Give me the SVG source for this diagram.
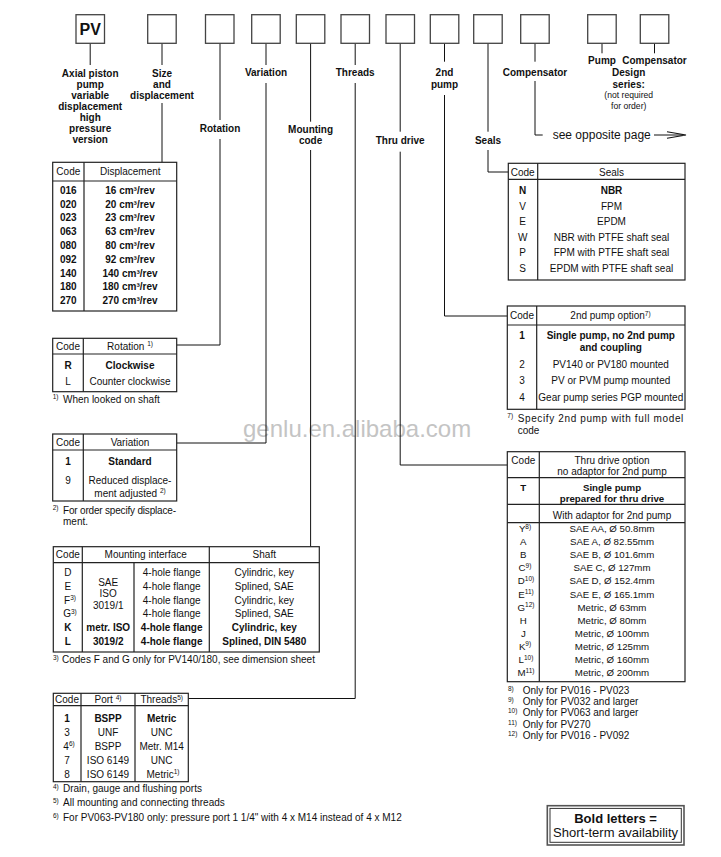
<svg xmlns="http://www.w3.org/2000/svg" width="721" height="857" viewBox="0 0 721 857">
<style>
text{font-family:"Liberation Sans",Arial,Helvetica,sans-serif;font-size:10px;fill:#111}
.b{font-weight:bold}
.m{text-anchor:middle}
.s{font-size:6.5px}
.sm{font-size:8.6px}
.td{font-size:9.7px}
.box{fill:#fff;stroke:#444;stroke-width:1.3}
.tbl{fill:#fff;stroke:#222;stroke-width:1.2}
.ln{fill:none;stroke:#222;stroke-width:1.2}
.conn{fill:none;stroke:#111;stroke-width:1}
.wm{font-size:24px;fill:#c4c4c4}
</style>
<rect width="721" height="857" fill="#fff"/>
<text class="wm" x="243" y="436.5">genlu.en.alibaba.com</text>
<g id="connectors" class="conn">
<path d="M90.2 43.3V65"/>
<path d="M162 43.3V65M162 103V162.3"/>
<path d="M220 43.3V120M220 139V345H176.7"/>
<path d="M266 43.3V65M266 83V443H176.7"/>
<path d="M310.6 43.3V121.7M310.6 150V546.7"/>
<path d="M355.2 43.3V65M355.2 83V698.5H188.3"/>
<path d="M400.2 43.3V131.7M400.2 151.7V465H507.3"/>
<path d="M444.5 43.3V61.7M444.5 95V316H507.3"/>
<path d="M488 43.3V131.7M488 150V172H508.3"/>
<path d="M535 43.3V61.7M535 81V135H542.7"/>
<path d="M602 43.3V53.3"/>
<path d="M654.5 43.3V53.3"/>
<path d="M654 135H683"/>
<path d="M667 131.8L686 135L667 138.2" stroke-width="1.1"/>
</g>
<g id="pos-pv"><rect class="box" x="76" y="14.7" width="28.5" height="28.6"/><text class="b m" x="90.2" y="35" style="font-size:16px">PV</text>
<text class="b m" x="90.2" y="76.5">Axial piston</text><text class="b m" x="90.2" y="87.5">pump</text><text class="b m" x="90.2" y="98.5">variable</text><text class="b m" x="90.2" y="109.5">displacement</text><text class="b m" x="90.2" y="120.5">high</text><text class="b m" x="90.2" y="131.5">pressure</text><text class="b m" x="90.2" y="142.5">version</text></g>
<g id="pos-size"><rect class="box" x="147.7" y="14.7" width="28.5" height="28.6"/><text class="b m" x="162" y="76.5">Size</text><text class="b m" x="162" y="87.5">and</text><text class="b m" x="162" y="98.5">displacement</text></g>
<g id="pos-rotation"><rect class="box" x="205.5" y="14.7" width="28.5" height="28.6"/><text class="b m" x="220" y="131.8">Rotation</text></g>
<g id="pos-variation"><rect class="box" x="251.7" y="14.7" width="28.5" height="28.6"/><text class="b m" x="266" y="75.8">Variation</text></g>
<g id="pos-mounting"><rect class="box" x="296.3" y="14.7" width="28.5" height="28.6"/><text class="b m" x="310.6" y="132.8">Mounting</text><text class="b m" x="310.6" y="143.5">code</text></g>
<g id="pos-threads"><rect class="box" x="341" y="14.7" width="28.5" height="28.6"/><text class="b m" x="355.2" y="75.5">Threads</text></g>
<g id="pos-thru"><rect class="box" x="386" y="14.7" width="28.5" height="28.6"/><text class="b m" x="400.2" y="143.5">Thru drive</text></g>
<g id="pos-2nd"><rect class="box" x="430.3" y="14.7" width="28.5" height="28.6"/><text class="b m" x="444.5" y="76.2">2nd</text><text class="b m" x="444.5" y="87.8">pump</text></g>
<g id="pos-seals"><rect class="box" x="473.7" y="14.7" width="28.5" height="28.6"/><text class="b m" x="488" y="143.5">Seals</text></g>
<g id="pos-comp"><rect class="box" x="520.7" y="14.7" width="28.5" height="28.6"/><text class="b m" x="535" y="76.2">Compensator</text><text x="552.7" y="139.2" style="font-size:12px">see opposite page</text></g>
<g id="pos-design"><rect class="box" x="587.7" y="14.7" width="28.5" height="28.6"/><rect class="box" x="640.3" y="14.7" width="28.5" height="28.6"/>
<text class="b m" x="602" y="64.2">Pump</text><text class="b m" x="654.5" y="63.5">Compensator</text><text class="b m" x="628.7" y="76.2">Design</text><text class="b m" x="628.7" y="87.8">series:</text><text class="m sm" x="628.7" y="98">(not required</text><text class="m sm" x="628.7" y="109">for order)</text></g>

<g id="tbl-displacement"><rect class="tbl" x="52.7" y="162.3" width="124" height="148.7"/><path class="ln" d="M52.7 181H176.7M84 162.3V311"/>
<text class="m" x="68.3" y="175.2">Code</text><text class="m" x="130.3" y="175.2">Displacement</text>
<g class="b"><text class="b m" x="68.3" y="193.7">016</text><text class="b m" x="130" y="193.7">16 cm³/rev</text>
<text class="b m" x="68.3" y="207.5">020</text><text class="b m" x="130" y="207.5">20 cm³/rev</text>
<text class="b m" x="68.3" y="221.3">023</text><text class="b m" x="130" y="221.3">23 cm³/rev</text>
<text class="b m" x="68.3" y="235.1">063</text><text class="b m" x="130" y="235.1">63 cm³/rev</text>
<text class="b m" x="68.3" y="248.9">080</text><text class="b m" x="130" y="248.9">80 cm³/rev</text>
<text class="b m" x="68.3" y="262.7">092</text><text class="b m" x="130" y="262.7">92 cm³/rev</text>
<text class="b m" x="68.3" y="276.5">140</text><text class="b m" x="130" y="276.5">140 cm³/rev</text>
<text class="b m" x="68.3" y="290.3">180</text><text class="b m" x="130" y="290.3">180 cm³/rev</text>
<text class="b m" x="68.3" y="304.1">270</text><text class="b m" x="130" y="304.1">270 cm³/rev</text></g></g>

<g id="tbl-rotation"><rect class="tbl" x="52.7" y="338.3" width="124" height="53.4"/><path class="ln" d="M52.7 354H176.7M83.3 338.3V391.7"/>
<text class="m" x="68" y="349.5">Code</text><text class="m" x="130" y="349.5">Rotation <tspan class="s" dy="-3.5">1)</tspan></text>
<text class="b m" x="68" y="369.2">R</text><text class="b m" x="130" y="369.2">Clockwise</text>
<text class="m" x="68" y="385.2">L</text><text class="m" x="130" y="385.2">Counter clockwise</text>
<text class="s" x="52.7" y="399">1)</text><text x="63" y="402.5">When looked on shaft</text></g>

<g id="tbl-variation"><rect class="tbl" x="52.7" y="434" width="124" height="67"/><path class="ln" d="M52.7 450H176.7M83.3 434V501"/>
<text class="m" x="68" y="446.2">Code</text><text class="m" x="130" y="446.2">Variation</text>
<text class="b m" x="68" y="465.2">1</text><text class="b m" x="130" y="465.2">Standard</text>
<text class="m" x="68" y="484.2">9</text><text class="m" x="130" y="484.2">Reduced displace-</text><text class="m" x="130" y="496.8">ment adjusted <tspan class="s" dy="-3.5">2)</tspan></text>
<text class="s" x="52.7" y="510">2)</text><text x="63" y="513.5" textLength="113" lengthAdjust="spacing">For order specify displace-</text><text x="63" y="525.2">ment.</text></g>

<g id="tbl-mounting"><rect class="tbl" x="53.3" y="546.7" width="266" height="105.3"/><path class="ln" d="M53.3 562.7H319.3M82.3 546.7V652M209.3 546.7V652M134 562.7V652"/>
<text class="m" x="67.8" y="557.5">Code</text><text class="m" x="145.7" y="557.5">Mounting interface</text><text class="m" x="264.3" y="557.5">Shaft</text>
<text class="m" x="67.8" y="576.2">D</text><text class="m" x="67.8" y="589.9">E</text><text class="m" x="70" y="603.6">F<tspan class="s" dy="-3.5">3)</tspan></text><text class="m" x="70" y="617.3">G<tspan class="s" dy="-3.5">3)</tspan></text><text class="b m" x="67.8" y="631">K</text><text class="b m" x="67.8" y="644.7">L</text>
<text class="m" x="108.2" y="585.5">SAE</text><text class="m" x="108.2" y="596.8">ISO</text><text class="m" x="108.2" y="608.5">3019/1</text><text class="b m" x="108.2" y="631">metr. ISO</text><text class="b m" x="108.2" y="644.7">3019/2</text>
<text class="m" x="171.7" y="576.2">4-hole flange</text><text class="m" x="171.7" y="589.9">4-hole flange</text><text class="m" x="171.7" y="603.6">4-hole flange</text><text class="m" x="171.7" y="617.3">4-hole flange</text><text class="b m" x="171.7" y="631">4-hole flange</text><text class="b m" x="171.7" y="644.7">4-hole flange</text>
<text class="m" x="264.3" y="576.2">Cylindric, key</text><text class="m" x="264.3" y="589.9">Splined, SAE</text><text class="m" x="264.3" y="603.6">Cylindric, key</text><text class="m" x="264.3" y="617.3">Splined, SAE</text><text class="b m" x="264.3" y="631">Cylindric, key</text><text class="b m" x="264.3" y="644.7">Splined, DIN 5480</text>
<text class="s" x="53" y="659.5">3)</text><text x="62" y="662.8">Codes F and G only for PV140/180, see dimension sheet</text></g>

<g id="tbl-threads"><rect class="tbl" x="53.3" y="693.3" width="135" height="88.4"/><path class="ln" d="M53.3 705.7H188.3M81 693.3V781.7M135 693.3V781.7"/>
<text class="m" x="67" y="703">Code</text><text class="m" x="108" y="703">Port <tspan class="s" dy="-3.5">4)</tspan></text><text class="m" x="161.7" y="703">Threads<tspan class="s" dy="-3.5">5)</tspan></text>
<text class="b m" x="67" y="721.5">1</text><text class="b m" x="108" y="721.5">BSPP</text><text class="b m" x="161.7" y="721.5">Metric</text>
<text class="m" x="67" y="735.5">3</text><text class="m" x="108" y="735.5">UNF</text><text class="m" x="161.7" y="735.5">UNC</text>
<text class="m" x="69" y="749.5">4<tspan class="s" dy="-3.5">6)</tspan></text><text class="m" x="108" y="749.5">BSPP</text><text class="m" x="161.7" y="749.5">Metr. M14</text>
<text class="m" x="67" y="763.5">7</text><text class="m" x="108" y="763.5">ISO 6149</text><text class="m" x="161.7" y="763.5">UNC</text>
<text class="m" x="67" y="777.5">8</text><text class="m" x="108" y="777.5">ISO 6149</text><text class="m" x="163" y="777.5">Metric<tspan class="s" dy="-3.5">1)</tspan></text>
<text class="s" x="53" y="788.5">4)</text><text x="63" y="791.8">Drain, gauge and flushing ports</text>
<text class="s" x="53" y="802.5">5)</text><text x="63" y="805.8">All mounting and connecting threads</text>
<text class="s" x="53" y="817.5">6)</text><text x="63" y="820.8">For PV063-PV180 only: pressure port 1 1/4" with 4 x M14 instead of 4 x M12</text></g>

<g id="tbl-seals"><rect class="tbl" x="508.3" y="163.3" width="176.7" height="116.7"/><path class="ln" d="M508.3 179.3H685M537.7 163.3V280"/>
<text class="m" x="522.7" y="175.5">Code</text><text class="m" x="611.5" y="175.5">Seals</text>
<text class="b m" x="522.7" y="194.2">N</text><text class="b m" x="611.5" y="194.2">NBR</text>
<text class="m" x="522.7" y="209.7">V</text><text class="m" x="611.5" y="209.7">FPM</text>
<text class="m" x="522.7" y="225.2">E</text><text class="m" x="611.5" y="225.2">EPDM</text>
<text class="m" x="522.7" y="240.7">W</text><text class="m" x="611.5" y="240.7">NBR with PTFE shaft seal</text>
<text class="m" x="522.7" y="256.2">P</text><text class="m" x="611.5" y="256.2">FPM with PTFE shaft seal</text>
<text class="m" x="522.7" y="271.7">S</text><text class="m" x="611.5" y="271.7">EPDM with PTFE shaft seal</text></g>

<g id="tbl-2ndpump"><rect class="tbl" x="507.3" y="306" width="177.7" height="103.3"/><path class="ln" d="M507.3 325H685M536.7 306V409.3"/>
<text class="m" x="522" y="319.2">Code</text><text class="m" x="610.5" y="319.2">2nd pump option<tspan class="s" dy="-3.5">7)</tspan></text>
<text class="b m" x="522" y="338.5">1</text><text class="b m" x="610.8" y="338.5">Single pump, no 2nd pump</text><text class="b m" x="610.8" y="351.2">and coupling</text>
<text class="m" x="522" y="367.8">2</text><text class="m" x="610.8" y="367.8">PV140 or PV180 mounted</text>
<text class="m" x="522" y="384.2">3</text><text class="m" x="610.8" y="384.2">PV or PVM pump mounted</text>
<text class="m" x="522" y="400.5">4</text><text class="m" x="610.8" y="400.5">Gear pump series PGP mounted</text>
<text class="s" x="507.3" y="418.3">7)</text><text x="517.7" y="421.8" textLength="165.6" lengthAdjust="spacing">Specify 2nd pump with full model</text><text x="517.7" y="433.5">code</text></g>

<g id="tbl-thrudrive"><rect class="tbl" x="507.3" y="451.7" width="177.7" height="230"/><path class="ln" d="M507.3 477.7H685M507.3 504.3H685M507.3 522.7H685M539.3 451.7V681.7"/>
<text class="m" x="523.3" y="463.5">Code</text><text class="m" x="612" y="463.5">Thru drive option</text><text class="m" x="612" y="474.5">no adaptor for 2nd pump</text>
<text class="b m td" x="523.3" y="490.8">T</text><text class="b m td" x="612" y="490.8">Single pump</text><text class="b m td" x="612" y="501.8">prepared for thru drive</text>
<text class="m" x="612" y="518.5">With adaptor for 2nd pump</text>
<g class="td">
<text class="m td" x="525" y="532">Y<tspan class="s" dy="-3.5">8)</tspan></text><text class="m td" x="612" y="532">SAE AA, Ø 50.8mm</text>
<text class="m td" x="523.3" y="545.1">A</text><text class="m td" x="612" y="545.1">SAE A, Ø 82.55mm</text>
<text class="m td" x="523.3" y="558.2">B</text><text class="m td" x="612" y="558.2">SAE B, Ø 101.6mm</text>
<text class="m td" x="525" y="571.3">C<tspan class="s" dy="-3.5">9)</tspan></text><text class="m td" x="612" y="571.3">SAE C, Ø 127mm</text>
<text class="m td" x="526" y="584.4">D<tspan class="s" dy="-3.5">10)</tspan></text><text class="m td" x="612" y="584.4">SAE D, Ø 152.4mm</text>
<text class="m td" x="526" y="597.5">E<tspan class="s" dy="-3.5">11)</tspan></text><text class="m td" x="612" y="597.5">SAE E, Ø 165.1mm</text>
<text class="m td" x="526" y="610.6">G<tspan class="s" dy="-3.5">12)</tspan></text><text class="m td" x="612" y="610.6">Metric, Ø 63mm</text>
<text class="m td" x="523.3" y="623.7">H</text><text class="m td" x="612" y="623.7">Metric, Ø 80mm</text>
<text class="m td" x="523.3" y="636.8">J</text><text class="m td" x="612" y="636.8">Metric, Ø 100mm</text>
<text class="m td" x="525" y="649.9">K<tspan class="s" dy="-3.5">9)</tspan></text><text class="m td" x="612" y="649.9">Metric, Ø 125mm</text>
<text class="m td" x="526" y="663">L<tspan class="s" dy="-3.5">10)</tspan></text><text class="m td" x="612" y="663">Metric, Ø 160mm</text>
<text class="m td" x="526" y="676.1">M<tspan class="s" dy="-3.5">11)</tspan></text><text class="m td" x="612" y="676.1">Metric, Ø 200mm</text>
</g>
<text class="s" x="508" y="690.5">8)</text><text x="522.7" y="693.5">Only for PV016 - PV023</text>
<text class="s" x="508" y="701.5">9)</text><text x="522.7" y="704.5">Only for PV032 and larger</text>
<text class="s" x="508" y="713">10)</text><text x="522.7" y="716">Only for PV063 and larger</text>
<text class="s" x="508" y="724.5">11)</text><text x="522.7" y="727.5">Only for PV270</text>
<text class="s" x="508" y="735.5">12)</text><text x="522.7" y="738.5">Only for PV016 - PV092</text></g>

<g id="legend"><rect x="547.3" y="805.7" width="136.7" height="39.3" fill="#fff" stroke="#555" stroke-width="1.6"/><rect x="550" y="808.4" width="131.3" height="33.9" fill="none" stroke="#333" stroke-width="1"/>
<text class="b m" x="615.6" y="823" style="font-size:13px">Bold letters =</text><text class="m" x="615.6" y="837.3" style="font-size:13px">Short-term availability</text></g>
</svg>
